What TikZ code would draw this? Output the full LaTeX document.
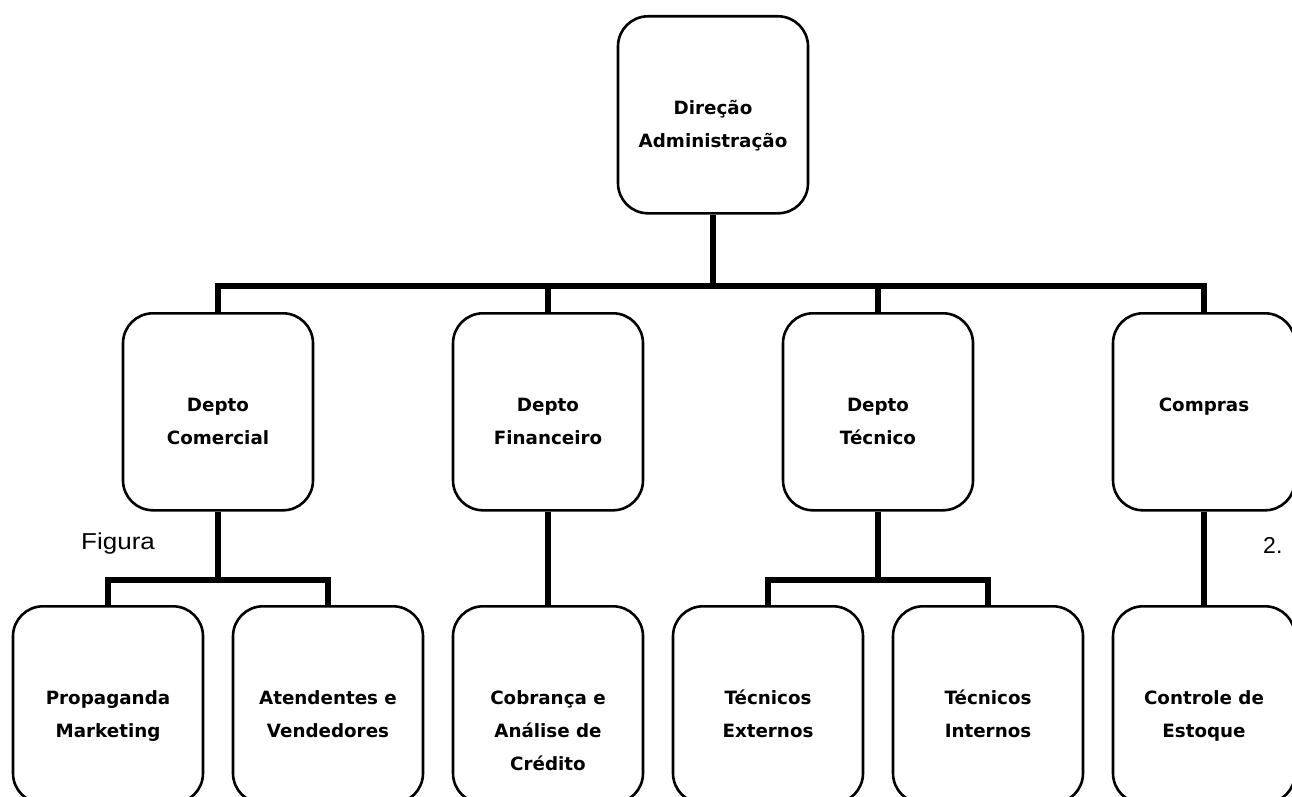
\documentclass[tikz,border=0pt]{standalone}
\usepackage{fontspec}
\newfontfamily\boxfont{DejaVu Sans}
\newfontfamily\capfont{Liberation Sans}
\newcommand\bxt[1]{\parbox[c][197pt][t]{176pt}{\centering\rule{0pt}{98pt}#1}}
\tikzset{
  orgbox/.style={draw, line width=2.6pt, rounded corners=30pt, minimum width=190pt,
    minimum height=197pt, inner sep=0pt, anchor=north,
    font=\boxfont\bfseries\fontsize{18.3}{33}\selectfont},
  conn/.style={line width=6.5pt},
  captxt/.style={font=\capfont\fontsize{23}{26}\selectfont, inner sep=0pt, anchor=base west}
}
\begin{document}
\begin{tikzpicture}[x=1pt,y=-1pt]
\useasboundingbox (0,0) rectangle (1292,797);
\clip (0,0) rectangle (1292,797);
\fill[white] (0,0) rectangle (1292,797);

% top
\node[orgbox] (dir) at (713,15) {\bxt{Direção\\Administração}};
% second row
\node[orgbox] (com) at (218,312) {\bxt{Depto\\Comercial}};
\node[orgbox] (fin) at (548,312) {\bxt{Depto\\Financeiro}};
\node[orgbox] (tec) at (878,312) {\bxt{Depto\\Técnico}};
\node[orgbox, minimum width=182pt] (cmp) at (1204,312) {\bxt{Compras}};
% third row
\node[orgbox] (pro) at (108,605) {\bxt{Propaganda\\Marketing}};
\node[orgbox] (ate) at (328,605) {\bxt{Atendentes e\\Vendedores}};
\node[orgbox] (cob) at (548,605) {\bxt{Cobrança e\\Análise de\\Crédito}};
\node[orgbox] (ext) at (768,605) {\bxt{Técnicos\\Externos}};
\node[orgbox] (int) at (988,605) {\bxt{Técnicos\\Internos}};
\node[orgbox, minimum width=182pt] (ctl) at (1204,605) {\bxt{Controle de\\Estoque}};

% connectors
\coordinate (b1) at (713,286);
\draw[conn] (dir.south) -- (b1);
\draw[conn] (com.north) |- (b1) -| (cmp.north);
\draw[conn] (fin.north) |- (b1);
\draw[conn] (tec.north) |- (b1);

\coordinate (s1) at (218,580);
\draw[conn] (com.south) -- (s1);
\draw[conn] (pro.north) |- (s1) -| (ate.north);
\draw[conn] (fin.south) -- (cob.north);
\coordinate (s2) at (878,580);
\draw[conn] (tec.south) -- (s2);
\draw[conn] (ext.north) |- (s2) -| (int.north);
\draw[conn] (cmp.south) -- (ctl.north);

% captions
\node[captxt] (fig) at (81,549) {\scalebox{1.13}[1]{Figura}};
\node[captxt] (two) at (1263,553) {2.};
\end{tikzpicture}
\end{document}
